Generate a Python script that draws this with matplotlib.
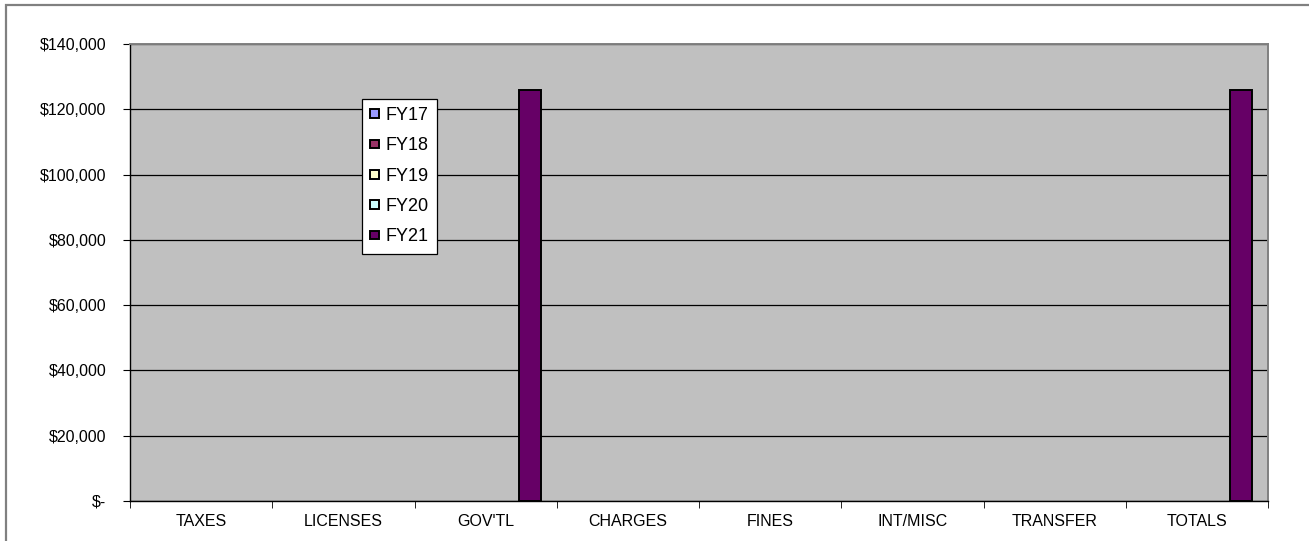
import numpy as np
import matplotlib
matplotlib.use("Agg")
import matplotlib.pyplot as plt
from matplotlib.patches import Rectangle
from matplotlib.ticker import FuncFormatter, MultipleLocator

plt.rcParams['font.family'] = ['Liberation Sans', 'DejaVu Sans']

categories = ["TAXES", "LICENSES", "GOV'TL", "CHARGES", "FINES", "INT/MISC", "TRANSFER", "TOTALS"]
series_names = ["FY17", "FY18", "FY19", "FY20", "FY21"]
fy17 = [0, 0, 0, 0, 0, 0, 0, 0]
fy18 = [0, 0, 0, 0, 0, 0, 0, 0]
fy19 = [0, 0, 0, 0, 0, 0, 0, 0]
fy20 = [0, 0, 0, 0, 0, 0, 0, 0]
fy21 = [0, 0, 125900, 0, 0, 0, 0, 125900]
series_colors = ["#9999FF", "#993366", "#FFFFCC", "#CCFFFF", "#660066"]

W, H = 1309, 541
fig = plt.figure(figsize=(W / 100, H / 100), dpi=100)
fig.patch.set_facecolor("white")

# outer chart frame
fig.add_artist(Rectangle((6 / W, -0.05), 1.1, 1 - 5.5 / H + 0.05, transform=fig.transFigure,
                         fill=False, edgecolor="#808080", linewidth=1.6))

ax = fig.add_axes([130 / W, 40 / H, 1138 / W, 457 / H])
ax.set_facecolor("#C0C0C0")

values = [fy17, fy18, fy19, fy20, fy21]
n = len(series_names)
x = np.arange(len(categories))
bw = 0.1547
for i, (name, vals, col) in enumerate(zip(series_names, values, series_colors)):
    offs = (i - (n - 1) / 2) * bw
    vals = np.array(vals, dtype=float)
    ax.bar(x + offs, vals, bw, color=col, edgecolor="black",
           linewidth=np.where(vals > 0, 1.4, 0), label=name, zorder=3)

ax.set_xlim(-0.5, len(categories) - 0.5)
ax.set_ylim(0, 140000)
ax.yaxis.set_major_locator(MultipleLocator(20000))
ax.yaxis.set_major_formatter(FuncFormatter(lambda v, p: "$-" if v == 0 else f"${v:,.0f}"))
ax.grid(axis="y", color="black", linewidth=0.9, zorder=1)

ax.set_xticks(x)
ax.set_xticklabels(categories)
ax.set_xticks(np.arange(len(categories) + 1) - 0.5, minor=True)
ax.tick_params(axis="x", which="major", length=0, pad=9, labelsize=11.5)
ax.tick_params(axis="x", which="minor", length=5, direction="out", color="black")
ax.tick_params(axis="y", length=5, direction="out", pad=12, labelsize=11.5, color="black")

for side in ["left", "bottom"]:
    ax.spines[side].set_color("black")
    ax.spines[side].set_linewidth(1.0)
for side in ["top", "right"]:
    ax.spines[side].set_color("#808080")
    ax.spines[side].set_linewidth(1.4)

leg = ax.legend(loc="upper left", bbox_to_anchor=(0.204, 0.88), borderaxespad=0,
                frameon=True, fancybox=False, edgecolor="black", framealpha=1,
                handlelength=0.5, handleheight=0.36, handletextpad=0.35,
                labelspacing=0.74, fontsize=13, borderpad=0.45)
leg.get_frame().set_linewidth(0.9)
for h, col in zip(leg.legend_handles, series_colors):
    h.set_edgecolor("black")
    h.set_linewidth(1.4)
    h.set_facecolor(col)

fig.savefig("out.png", dpi=100)
